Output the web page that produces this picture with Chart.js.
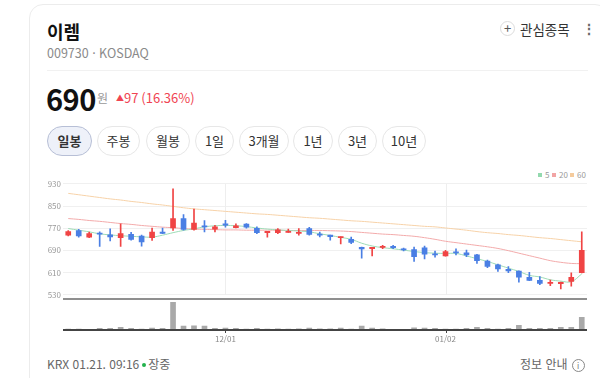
<!DOCTYPE html>
<html lang="ko">
<head>
<meta charset="utf-8">
<title>이렘 일봉 차트</title>
<script src="https://cdn.jsdelivr.net/npm/chart.js@4.4.1/dist/chart.umd.min.js"></script>
<style>
  body { margin:0; width:600px; height:378px; overflow:hidden; background:#fff;
         font-family:'Noto Sans CJK KR','Noto Sans',sans-serif; color:#222; position:relative; }
  .abs { position:absolute; white-space:nowrap; }
  .card { position:absolute; left:29px; top:4px; width:580px; height:430px;
          border:1px solid #ececec; border-radius:14px; box-sizing:border-box; }
  .title { left:47px; top:19px; font-size:18px; font-weight:700; line-height:24px; color:#111; }
  .sub { left:47px; top:45px; font-size:12.5px; line-height:16px; color:#8a8a8a; }
  .sep { left:47px; top:70px; width:541px; height:1px; background:#f1f1f1; }
  .price { left:46px; top:80px; font-size:29px; font-weight:700; line-height:36px; color:#111; letter-spacing:-0.5px; }
  .won { left:97px; top:90px; font-size:12px; line-height:16px; color:#999; }
  .chg { left:116px; top:90px; font-size:13px; line-height:16px; color:#f04452; }
  .chg small { font-size:8px; vertical-align:2px; }
  .btn { top:126px; height:30px; line-height:28px; box-sizing:border-box; border:1px solid #e7e7e7;
         border-radius:15px; font-size:13px; color:#333; text-align:center; }
  .btn.on { background:#eef1f9; border-color:#b7bfd6; font-weight:600; }
  .fav-ic { left:500px; top:21px; width:15px; height:15px; box-sizing:border-box; border:1px solid #dcdcdc;
            border-radius:50%; font-size:13px; line-height:12px; text-align:center; color:#555; }
  .fav { left:520px; top:20px; font-size:13.5px; line-height:18px; color:#333; }
  .kebab { left:582px; top:19px; font-size:14px; line-height:18px; color:#666; font-weight:700; }
  .legend { top:169px; font-size:8px; line-height:12px; color:#999; }
  .legend i { display:inline-block; width:4px; height:4px; margin-right:3px; vertical-align:1px; }
  .foot { top:356px; font-size:12px; line-height:16px; color:#666; }
  .dot { display:inline-block; width:4px; height:4px; border-radius:50%; background:#22b14c; vertical-align:2px; margin:0 2px 0 3px; }
  .info-ic { display:inline-block; width:11px; height:11px; border:1px solid #888; border-radius:50%; font-size:8px;
             line-height:11px; text-align:center; color:#777; vertical-align:0px; margin-left:4px; }
  canvas { position:absolute; left:0; top:165px; }
</style>
</head>
<body>
<div class="card"></div>
<div class="abs title">이렘</div>
<div class="abs sub">009730 · KOSDAQ</div>
<div class="abs sep"></div>
<div class="abs price">690</div>
<div class="abs won">원</div>
<div class="abs chg"><small>▲</small>97 (16.36%)</div>

<div class="abs btn on" style="left:47px;width:45px">일봉</div>
<div class="abs btn" style="left:97px;width:43px">주봉</div>
<div class="abs btn" style="left:146px;width:44px">월봉</div>
<div class="abs btn" style="left:195px;width:39px">1일</div>
<div class="abs btn" style="left:239px;width:50px">3개월</div>
<div class="abs btn" style="left:293px;width:40px">1년</div>
<div class="abs btn" style="left:338px;width:39px">3년</div>
<div class="abs btn" style="left:382px;width:44px">10년</div>

<div class="abs fav-ic">+</div>
<div class="abs fav">관심종목</div>
<div class="abs kebab">⋮</div>

<div class="abs legend" style="left:538px"><i style="background:#93d9ae"></i>5</div>
<div class="abs legend" style="left:552px"><i style="background:#f2a4a4"></i>20</div>
<div class="abs legend" style="left:570px"><i style="background:#f5cb9c"></i>60</div>

<canvas id="candleChart" width="600" height="180"></canvas>

<div class="abs foot" style="left:47px">KRX 01.21. 09:16<span class="dot"></span>장중</div>
<div class="abs foot" style="left:520px">정보 안내<span class="info-ic">i</span></div>

<script>
// DATA
const dates = ['11/08','11/11','11/12','11/13','11/14','11/15','11/18','11/19','11/20','11/21',
  '11/22','11/25','11/26','11/27','11/28','12/01','12/02','12/03','12/04','12/05',
  '12/06','12/09','12/10','12/11','12/12','12/13','12/16','12/17','12/18','12/19',
  '12/20','12/23','12/24','12/26','12/27','12/30','01/02','01/03','01/06','01/07',
  '01/08','01/09','01/10','01/13','01/14','01/15','01/16','01/17','01/20','01/21'];
const dateTicks = ['12/01', '01/02'];
const priceTicks = [930, 850, 770, 690, 610, 530];

const openP  = [745,762,738,753,746,736,748,742,736,756, 771,805,766,779,767,786,772,785,770,754,
                754,755,751,769,749,745,736,730,701,696, 701,705,695,693,699,678,670,685,681,674,
                651,638,622,615,593,582,571,570,578,610];
const highP  = [762,766,756,757,768,786,755,745,771,771, 912,819,839,798,781,799,786,787,775,759,
                769,767,769,773,756,745,739,738,702,701, 708,708,698,702,706,688,690,696,691,676,
                655,641,632,616,611,595,583,576,609,757];
const lowP   = [742,738,736,704,724,704,727,705,726,750, 762,763,763,757,757,774,771,770,750,738,
                750,755,745,745,739,727,713,714,662,670, 696,696,688,650,659,666,669,674,667,643,
                628,614,610,575,581,566,563,551,561,609];
const closeP = [758,742,751,749,739,751,730,721,756,751, 805,766,789,775,775,781,779,774,754,759,
                764,759,755,748,745,740,738,719,695,701, 704,700,692,667,676,674,686,681,674,653,
                632,623,616,593,582,571,575,575,593,690];
const volume = [100000,100000,70000,170000,170000,270000,170000,100000,200000,170000,
                2800000,400000,430000,400000,170000,200000,170000,100000,170000,100000,
                130000,100000,130000,200000,130000,130000,200000,100000,400000,200000,
                130000,70000,70000,230000,200000,170000,100000,100000,170000,270000,
                170000,100000,170000,470000,170000,170000,170000,270000,270000,1270000];
const ma5  = [769,763,757,750,746,743,741,739,738,745, 754,762,768,775,779,780,779,776,771,767,
              764,762,760,757,750,744,737,730,716,706, 700,696,691,686,682,680,679,679,670,660,
              650,638,626,614,600,594,584,579,577,605];
const ma20 = [805,802,798,795,791,787,784,780,777,774, 772,769,767,766,765,764,764,763,763,763,
              763,762,762,762,762,761,760,758,755,752, 749,747,744,741,736,730,723,718,713,708,
              703,697,689,680,671,662,653,647,643,642];
const ma60 = [896,891,886,881,876,872,867,863,858,854, 849,844,840,837,834,831,828,825,822,820,
              817,814,811,808,806,803,800,797,795,792, 789,786,783,780,777,775,771,767,763,758,
              754,751,747,744,740,736,733,729,725,721];

const RED = '#f04444';
const BLUE = '#4a7fe4';
const VOL_TOP = 3170000; // value at the top of the volume pane

const candleColor = ctx => closeP[ctx.dataIndex] >= openP[ctx.dataIndex] ? RED : BLUE;

Chart.defaults.font.family = "'Noto Sans CJK KR','Noto Sans',sans-serif";

// pane lines: vertical grid for the date ticks, volume pane separators
const panes = {
  id: 'panes',
  beforeDatasetsDraw(chart) {
    const { ctx, scales: { x, y } } = chart;
    ctx.save();
    ctx.strokeStyle = '#eeeeee';
    ctx.lineWidth = 1;
    x.ticks.forEach((t, i) => {
      const px = Math.round(x.getPixelForTick(i)) + 0.5;
      ctx.beginPath();
      ctx.moveTo(px, y.getPixelForValue(930));
      ctx.lineTo(px, y.getPixelForValue(530));
      ctx.stroke();
    });
    ctx.restore();
  },
  afterDatasetsDraw(chart) {
    const { ctx, chartArea, scales: { x, yv } } = chart;
    ctx.save();
    const top = Math.round(yv.getPixelForValue(VOL_TOP));
    ctx.strokeStyle = '#8f8f8f';
    ctx.lineWidth = 2;
    ctx.beginPath();
    ctx.moveTo(chartArea.left, top);
    ctx.lineTo(chartArea.right, top);
    ctx.stroke();
    const base = yv.getPixelForValue(0);
    ctx.strokeStyle = '#444';
    ctx.lineWidth = 2;
    ctx.beginPath();
    ctx.moveTo(chartArea.left, base);
    ctx.lineTo(chartArea.right, base);
    ctx.stroke();
    ctx.lineWidth = 1;
    x.ticks.forEach((t, i) => {
      const px = Math.round(x.getPixelForTick(i)) + 0.5;
      ctx.beginPath();
      ctx.moveTo(px, base);
      ctx.lineTo(px, base + 3);
      ctx.stroke();
    });
    ctx.restore();
  }
};

new Chart(document.getElementById('candleChart').getContext('2d'), {
  data: {
    labels: dates,
    datasets: [
      { type: 'line', data: ma60, borderColor: '#f7d2a8', borderWidth: 1, pointRadius: 0,
        tension: 0.4, yAxisID: 'y', order: 5 },
      { type: 'line', data: ma20, borderColor: '#f3aaaa', borderWidth: 1, pointRadius: 0,
        tension: 0.4, yAxisID: 'y', order: 4 },
      { type: 'line', data: ma5, borderColor: '#9ddcb6', borderWidth: 1, pointRadius: 0,
        tension: 0.4, yAxisID: 'y', order: 3 },
      { type: 'bar', data: lowP.map((l, i) => [l, highP[i]]), backgroundColor: candleColor,
        barThickness: 1, grouped: false, yAxisID: 'y', order: 2 },
      { type: 'bar', data: openP.map((o, i) => [o, closeP[i]]), backgroundColor: candleColor,
        barThickness: 5, minBarLength: 1, grouped: false, yAxisID: 'y', order: 1 },
      { type: 'bar', data: volume, backgroundColor: '#a9a9a9', barThickness: 5,
        grouped: false, yAxisID: 'yv', order: 0 }
    ]
  },
  options: {
    responsive: false,
    animation: false,
    events: [],
    layout: { padding: { left: 0, right: 13, top: 5, bottom: 0 } },
    plugins: { legend: { display: false }, tooltip: { enabled: false } },
    scales: {
      x: {
        offset: true,
        grid: { display: false, drawTicks: false },
        border: { display: false },
        afterBuildTicks: s => { s.ticks = s.ticks.filter(t => dateTicks.includes(dates[t.value])); },
        afterFit: s => { s.height = 15; },
        ticks: { autoSkip: false, maxRotation: 0, padding: 4, color: '#888', font: { size: 8 } }
      },
      y: {
        position: 'left',
        min: 402.5,
        max: 973.9,
        grid: { color: '#f0f0f0', drawTicks: false },
        border: { display: false },
        afterBuildTicks: s => { s.ticks = priceTicks.map(v => ({ value: v })); },
        afterFit: s => { s.width = 63; },
        ticks: { padding: 2, color: '#999', font: { size: 8 } }
      },
      yv: {
        display: false,
        min: 0,
        max: VOL_TOP * 160 / 31.7
      }
    }
  },
  plugins: [panes]
});
</script>
</body>
</html>
